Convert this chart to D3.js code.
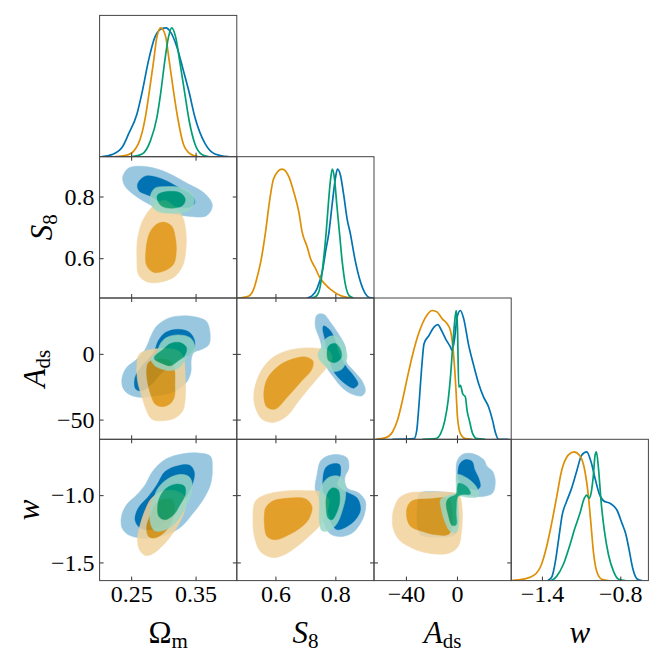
<!DOCTYPE html>
<html>
<head>
<meta charset="utf-8">
<script src="https://cdn.jsdelivr.net/npm/d3@7"></script>
<style>body{margin:0;background:#fff}</style>
</head>
<body>
<svg id="chart" width="664" height="664"></svg>
<script>
// axis ranges and ticks
var rangeOm = [0.201, 0.414];
var rangeS8 = [0.471, 0.929];
var rangeAds = [-65, 42.5];
var rangeW = [-1.635, -0.585];
var ticksOm = [0.25, 0.35];
var ticksS8 = [0.6, 0.8];
var ticksAdsX = [-40, 0];
var ticksAdsY = [-50, 0];
var ticksWX = [-1.4, -0.8];
var ticksWY = [-1.5, -1.0];

// 1D marginals: [value, normalised density]
var margOmBlue = [[0.205,0],[0.220,0.016],[0.236,0.073],[0.246,0.177],[0.259,0.332],[0.267,0.50],[0.277,0.748],[0.287,0.93],[0.298,0.995],[0.304,1.0],[0.311,0.969],[0.321,0.852],[0.331,0.67],[0.340,0.50],[0.349,0.306],[0.365,0.099],[0.380,0.021],[0.401,0]];
var margOmOrange = [[0.225,0],[0.246,0.016],[0.261,0.099],[0.272,0.306],[0.278,0.50],[0.285,0.748],[0.290,0.93],[0.296,1.0],[0.303,0.943],[0.309,0.748],[0.316,0.50],[0.323,0.281],[0.331,0.099],[0.342,0.021],[0.354,0]];
var margOmGreen = [[0.251,0],[0.267,0.021],[0.280,0.125],[0.290,0.306],[0.296,0.50],[0.303,0.774],[0.308,0.93],[0.313,1.0],[0.319,0.93],[0.326,0.722],[0.333,0.50],[0.340,0.281],[0.349,0.099],[0.360,0.016],[0.370,0]];

var margS8Blue = [[0.706,0],[0.722,0.016],[0.739,0.073],[0.756,0.202],[0.769,0.383],[0.778,0.5],[0.789,0.72],[0.800,0.927],[0.807,1.0],[0.817,0.953],[0.828,0.798],[0.839,0.617],[0.850,0.5],[0.865,0.306],[0.884,0.124],[0.900,0.034],[0.914,0.003],[0.928,0]];
var margS8Orange = [[0.472,0],[0.511,0.016],[0.528,0.073],[0.539,0.163],[0.553,0.306],[0.567,0.513],[0.580,0.746],[0.594,0.927],[0.622,1.0],[0.645,0.94],[0.661,0.824],[0.678,0.668],[0.689,0.513],[0.706,0.396],[0.717,0.306],[0.734,0.228],[0.747,0.163],[0.767,0.104],[0.784,0.067],[0.811,0.026],[0.839,0.005],[0.861,0]];
var margS8Green = [[0.722,0],[0.739,0.021],[0.750,0.098],[0.761,0.306],[0.769,0.5],[0.778,0.772],[0.785,0.94],[0.790,1.0],[0.797,0.927],[0.805,0.72],[0.814,0.5],[0.823,0.28],[0.834,0.098],[0.847,0.016],[0.861,0]];

var margAdsBlue = [[-50.5,0],[-33.6,0.005],[-31.5,0.07],[-29.7,0.276],[-27.6,0.561],[-25.8,0.742],[-21.9,0.806],[-18.0,0.871],[-14.9,0.891],[-12.8,0.858],[-8.9,0.78],[-5.1,0.716],[-3.8,0.69],[-1.7,0.793],[0.1,0.948],[2.7,1.0],[5.3,0.935],[9.2,0.729],[13.1,0.574],[17.0,0.432],[20.9,0.328],[24.8,0.251],[27.9,0.147],[30.0,0.057],[32.6,0],[40.4,0]];
var margAdsOrange = [[-63.5,0],[-55.7,0.013],[-50.5,0.057],[-46.6,0.147],[-42.7,0.302],[-38.8,0.483],[-34.9,0.651],[-31.0,0.793],[-27.1,0.897],[-23.2,0.969],[-19.3,1.0],[-15.4,0.987],[-11.5,0.935],[-7.7,0.897],[-5.1,0.845],[-3.2,0.716],[-1.7,0.535],[-0.6,0.354],[0.4,0.173],[2.7,0.044],[6.6,0.005],[11.8,0]];
var margAdsGreen = [[-27.1,0],[-16.7,0.005],[-12.8,0.044],[-9.5,0.147],[-6.9,0.302],[-5.1,0.483],[-3.2,0.742],[-1.7,0.922],[-0.6,1.0],[0.4,0.871],[1.4,0.406],[2.7,0.419],[4.5,0.354],[6.6,0.328],[7.9,0.225],[9.7,0.147],[12.3,0.044],[15.7,0.005],[22.2,0]];

var margWBlue = [[-1.354,0],[-1.323,0.031],[-1.297,0.147],[-1.271,0.328],[-1.245,0.509],[-1.212,0.612],[-1.173,0.716],[-1.135,0.845],[-1.096,0.974],[-1.057,1.0],[-1.024,0.922],[-0.993,0.793],[-0.962,0.677],[-0.929,0.62],[-0.877,0.599],[-0.826,0.548],[-0.787,0.444],[-0.756,0.354],[-0.730,0.225],[-0.705,0.096],[-0.671,0.013],[-0.633,0]];
var margWOrange = [[-1.637,0],[-1.534,0.013],[-1.457,0.044],[-1.405,0.121],[-1.367,0.251],[-1.328,0.432],[-1.289,0.638],[-1.251,0.845],[-1.199,0.974],[-1.155,1.0],[-1.109,0.969],[-1.070,0.845],[-1.045,0.664],[-1.024,0.432],[-1.006,0.225],[-0.980,0.07],[-0.942,0.01],[-0.890,0]];
var margWGreen = [[-1.328,0],[-1.289,0.031],[-1.238,0.121],[-1.186,0.276],[-1.148,0.406],[-1.109,0.522],[-1.076,0.638],[-1.057,0.664],[-1.039,0.638],[-1.024,0.677],[-1.006,0.819],[-0.993,0.974],[-0.983,1.0],[-0.967,0.871],[-0.947,0.612],[-0.921,0.38],[-0.890,0.199],[-0.851,0.07],[-0.813,0.01],[-0.761,0]];

// 2D contours (95% and 68%), outlines as [x, y]
var omS8Blue95 = [[0.237,0.863],[0.246,0.892],[0.267,0.898],[0.298,0.884],[0.334,0.846],[0.365,0.808],[0.376,0.771],[0.367,0.738],[0.339,0.736],[0.308,0.749],[0.282,0.771],[0.256,0.803],[0.240,0.835]];
var omS8Blue68 = [[0.260,0.841],[0.272,0.866],[0.298,0.857],[0.323,0.830],[0.344,0.803],[0.349,0.781],[0.341,0.765],[0.318,0.768],[0.298,0.781],[0.280,0.801],[0.262,0.819]];
var omS8Orange95 = [[0.303,0.787],[0.318,0.765],[0.330,0.733],[0.335,0.684],[0.335,0.630],[0.330,0.576],[0.318,0.541],[0.298,0.524],[0.277,0.522],[0.262,0.544],[0.259,0.598],[0.260,0.662],[0.267,0.717],[0.280,0.760],[0.292,0.781]];
var omS8Orange68 = [[0.300,0.717],[0.313,0.704],[0.319,0.662],[0.320,0.619],[0.316,0.581],[0.303,0.560],[0.285,0.554],[0.274,0.576],[0.273,0.630],[0.278,0.679],[0.287,0.706]];
var omS8Green95 = [[0.280,0.803],[0.287,0.827],[0.305,0.832],[0.329,0.827],[0.344,0.808],[0.348,0.781],[0.339,0.754],[0.318,0.746],[0.292,0.751],[0.281,0.773]];
var omS8Green68 = [[0.291,0.805],[0.305,0.816],[0.326,0.812],[0.334,0.792],[0.330,0.771],[0.313,0.762],[0.298,0.768],[0.291,0.787]];

var omAdsBlue95 = [[0.290,21.3],[0.308,27.1],[0.329,28.9],[0.354,27.6],[0.367,24.6],[0.372,17.5],[0.371,7.4],[0.360,3.6],[0.347,1.0],[0.343,-5.3],[0.343,-12.9],[0.339,-19.2],[0.331,-24.3],[0.313,-29.3],[0.287,-31.9],[0.264,-33.1],[0.246,-30.6],[0.237,-25.5],[0.236,-18.0],[0.243,-10.4],[0.259,-4.0],[0.272,3.6],[0.282,14.9]];
var omAdsBlue68 = [[0.303,16.2],[0.323,18.7],[0.341,16.2],[0.349,8.6],[0.344,1.0],[0.323,-5.3],[0.298,-14.2],[0.282,-23.0],[0.267,-28.1],[0.257,-26.8],[0.256,-18.0],[0.267,-9.1],[0.285,1.0],[0.292,9.9]];
var omAdsOrange95 = [[0.272,2.3],[0.298,4.1],[0.323,2.3],[0.331,-2.8],[0.334,-18.0],[0.334,-33.1],[0.330,-43.3],[0.318,-48.8],[0.298,-50.9],[0.282,-49.6],[0.274,-43.3],[0.267,-33.1],[0.260,-20.5],[0.259,-7.8],[0.262,-0.7]];
var omAdsOrange68 = [[0.277,-6.6],[0.292,-4.0],[0.310,-5.3],[0.317,-11.6],[0.318,-23.0],[0.317,-33.1],[0.310,-38.2],[0.298,-40.2],[0.287,-38.2],[0.280,-30.6],[0.275,-20.5],[0.274,-11.6]];
var omAdsGreen95 = [[0.290,1.0],[0.295,7.4],[0.305,12.4],[0.323,14.4],[0.341,12.4],[0.348,7.4],[0.347,1.0],[0.339,-1.5],[0.331,-6.6],[0.321,-11.6],[0.305,-12.4],[0.287,-9.1],[0.281,-4.0]];
var omAdsGreen68 = [[0.287,-1.5],[0.300,3.6],[0.311,7.9],[0.326,8.6],[0.336,4.8],[0.333,-1.5],[0.323,-5.3],[0.311,-9.1],[0.298,-7.3],[0.286,-4.0]];

var s8AdsBlue95 = [[0.739,29.6],[0.761,30.1],[0.784,23.8],[0.811,14.9],[0.834,4.8],[0.834,-5.3],[0.861,-12.9],[0.889,-20.5],[0.900,-28.1],[0.889,-31.9],[0.856,-30.6],[0.822,-25.5],[0.795,-18.0],[0.772,-10.4],[0.761,-1.5],[0.750,9.9],[0.733,21.3]];
var s8AdsBlue68 = [[0.761,21.3],[0.784,17.5],[0.800,9.9],[0.811,1.0],[0.834,-9.1],[0.861,-16.7],[0.876,-23.0],[0.861,-26.1],[0.834,-23.0],[0.800,-15.4],[0.784,-7.8],[0.772,1.0],[0.765,11.1],[0.758,18.7]];
var s8AdsOrange95 = [[0.578,-5.3],[0.622,1.0],[0.678,4.1],[0.733,4.3],[0.778,2.3],[0.789,-4.0],[0.767,-11.6],[0.733,-20.5],[0.678,-35.7],[0.639,-47.1],[0.594,-52.1],[0.555,-49.6],[0.533,-40.7],[0.528,-30.6],[0.544,-16.7]];
var s8AdsOrange68 = [[0.611,-9.1],[0.656,-4.0],[0.700,-2.3],[0.725,-5.3],[0.722,-11.6],[0.683,-21.8],[0.639,-33.1],[0.600,-42.0],[0.572,-40.7],[0.561,-31.9],[0.572,-19.2]];
var s8AdsGreen95 = [[0.761,9.9],[0.789,13.7],[0.817,11.1],[0.834,3.6],[0.839,-2.8],[0.822,-11.6],[0.795,-13.4],[0.772,-10.4],[0.750,-5.3],[0.742,-0.2],[0.753,4.8]];
var s8AdsGreen68 = [[0.778,6.1],[0.800,7.9],[0.817,3.6],[0.820,-2.8],[0.800,-6.6],[0.778,-5.3],[0.772,-0.2]];

var omWBlue95 = [[0.290,-0.786],[0.305,-0.729],[0.329,-0.694],[0.354,-0.687],[0.373,-0.711],[0.376,-0.798],[0.373,-0.922],[0.360,-1.046],[0.344,-1.146],[0.331,-1.220],[0.316,-1.270],[0.292,-1.307],[0.267,-1.319],[0.246,-1.295],[0.236,-1.245],[0.235,-1.158],[0.243,-1.071],[0.259,-0.997],[0.272,-0.922],[0.280,-0.848]];
var omWBlue68 = [[0.303,-0.823],[0.323,-0.781],[0.341,-0.778],[0.348,-0.828],[0.345,-0.922],[0.334,-1.022],[0.318,-1.121],[0.300,-1.208],[0.282,-1.257],[0.264,-1.245],[0.256,-1.183],[0.261,-1.096],[0.277,-1.009],[0.290,-0.922]];
var omWOrange95 = [[0.298,-0.972],[0.318,-0.967],[0.333,-1.009],[0.334,-1.096],[0.326,-1.195],[0.313,-1.295],[0.300,-1.369],[0.285,-1.431],[0.272,-1.448],[0.263,-1.406],[0.260,-1.319],[0.264,-1.220],[0.272,-1.108],[0.282,-1.022]];
var omWOrange68 = [[0.298,-1.034],[0.313,-1.034],[0.318,-1.108],[0.313,-1.195],[0.303,-1.270],[0.287,-1.319],[0.277,-1.307],[0.274,-1.233],[0.280,-1.146],[0.287,-1.071]];
var omWGreen95 = [[0.285,-1.022],[0.292,-0.947],[0.305,-0.885],[0.323,-0.848],[0.339,-0.860],[0.345,-0.922],[0.341,-1.022],[0.331,-1.121],[0.318,-1.208],[0.303,-1.257],[0.287,-1.265],[0.280,-1.208],[0.280,-1.108]];
var omWGreen68 = [[0.295,-1.009],[0.305,-0.947],[0.321,-0.917],[0.333,-0.935],[0.334,-0.997],[0.326,-1.071],[0.316,-1.146],[0.303,-1.183],[0.293,-1.158],[0.291,-1.084]];

var s8WBlue95 = [[0.750,-0.749],[0.772,-0.711],[0.811,-0.699],[0.839,-0.724],[0.845,-0.798],[0.831,-0.873],[0.839,-0.947],[0.878,-0.984],[0.900,-1.046],[0.898,-1.133],[0.884,-1.208],[0.856,-1.282],[0.822,-1.307],[0.789,-1.295],[0.772,-1.257],[0.755,-1.146],[0.750,-1.046],[0.733,-0.960],[0.739,-0.848]];
var s8WBlue68 = [[0.767,-0.798],[0.789,-0.768],[0.814,-0.773],[0.817,-0.848],[0.806,-0.922],[0.834,-0.972],[0.873,-1.022],[0.884,-1.108],[0.867,-1.183],[0.839,-1.233],[0.806,-1.257],[0.789,-1.220],[0.778,-1.146],[0.767,-1.046],[0.758,-0.922]];
var s8WOrange95 = [[0.533,-1.046],[0.567,-0.997],[0.622,-0.972],[0.700,-0.967],[0.750,-0.977],[0.778,-1.034],[0.772,-1.121],[0.750,-1.220],[0.711,-1.307],[0.672,-1.381],[0.628,-1.444],[0.589,-1.463],[0.550,-1.419],[0.531,-1.319],[0.525,-1.195]];
var s8WOrange68 = [[0.567,-1.096],[0.589,-1.046],[0.645,-1.022],[0.700,-1.027],[0.722,-1.084],[0.713,-1.171],[0.689,-1.233],[0.645,-1.295],[0.600,-1.332],[0.572,-1.307],[0.563,-1.220],[0.563,-1.146]];
var s8WGreen95 = [[0.756,-0.922],[0.778,-0.868],[0.811,-0.860],[0.831,-0.910],[0.834,-1.009],[0.822,-1.121],[0.806,-1.208],[0.784,-1.257],[0.756,-1.265],[0.747,-1.195],[0.747,-1.071],[0.747,-0.984]];
var s8WGreen68 = [[0.772,-0.997],[0.789,-0.947],[0.809,-0.960],[0.815,-1.034],[0.806,-1.121],[0.789,-1.183],[0.776,-1.171],[0.769,-1.096]];

var adsWBlue95 = [[0.1,-0.749],[4.0,-0.699],[11.8,-0.691],[20.9,-0.736],[23.5,-0.786],[27.9,-0.823],[30.0,-0.897],[27.9,-0.984],[20.9,-1.009],[14.4,-1.009],[6.6,-0.997],[1.9,-0.992],[0.1,-0.910],[-0.6,-0.823]];
var adsWBlue95b = [[-29.2,-0.984],[-8.9,-0.979],[-0.6,-0.997],[0.9,-1.096],[0.1,-1.270],[-2.5,-1.300],[-27.1,-1.302],[-30.2,-1.270],[-30.5,-1.022]];
var adsWBlue68 = [[1.9,-0.773],[6.6,-0.736],[11.8,-0.749],[13.9,-0.811],[17.0,-0.873],[18.3,-0.935],[15.7,-0.960],[9.2,-0.947],[5.3,-0.922],[1.4,-0.885]];
var adsWOrange95 = [[-49.2,-1.096],[-45.3,-1.022],[-37.5,-0.984],[-21.9,-0.977],[-6.4,-0.979],[1.4,-0.997],[4.0,-1.096],[3.5,-1.270],[0.9,-1.381],[-6.4,-1.431],[-21.9,-1.431],[-34.9,-1.394],[-45.3,-1.332],[-50.0,-1.245],[-50.5,-1.158]];
var adsWOrange68 = [[-38.8,-1.084],[-34.9,-1.041],[-21.9,-1.027],[-6.4,-1.027],[-3.8,-1.108],[-3.8,-1.233],[-6.4,-1.290],[-16.7,-1.295],[-27.1,-1.270],[-36.2,-1.233],[-39.3,-1.171]];
var adsWGreen95 = [[0.1,-0.848],[7.9,-0.873],[15.7,-0.947],[16.5,-1.009],[9.2,-1.017],[1.4,-1.009],[0.9,-1.084],[1.4,-1.195],[-0.6,-1.275],[-5.1,-1.270],[-9.5,-1.195],[-12.1,-1.108],[-12.8,-1.034],[-6.4,-1.002],[-0.6,-0.984],[-0.6,-0.922]];
var adsWGreen68 = [[1.4,-0.910],[8.7,-0.947],[10.5,-0.992],[4.0,-0.997],[0.9,-1.009],[-0.6,-1.121],[-0.6,-1.220],[-3.8,-1.225],[-6.9,-1.146],[-8.4,-1.059],[-6.4,-1.022],[-0.6,-0.992],[0.1,-0.947]];

// styling
var lineColor = {blue: '#0173B2', orange: '#DE8F05', green: '#029E73'};
var lightColor = {blue: '#99C7E0', orange: '#F2D29B', green: '#9AD8C7'};
var seriesAlpha = {blue: 1, orange: 0.85, green: 0.85};

var ranges = [rangeOm, rangeS8, rangeAds, rangeW];
var xTicks = [ticksOm, ticksS8, ticksAdsX, ticksWX];
var yTicks = [ticksOm, ticksS8, ticksAdsY, ticksWY];
var formats = [d3.format('.2f'), d3.format('.1f'), d3.format('d'), d3.format('.1f')];

var marginals = [
  {i: 0, s: 'blue', d: margOmBlue}, {i: 0, s: 'orange', d: margOmOrange}, {i: 0, s: 'green', d: margOmGreen},
  {i: 1, s: 'blue', d: margS8Blue}, {i: 1, s: 'orange', d: margS8Orange}, {i: 1, s: 'green', d: margS8Green},
  {i: 2, s: 'blue', d: margAdsBlue}, {i: 2, s: 'orange', d: margAdsOrange}, {i: 2, s: 'green', d: margAdsGreen},
  {i: 3, s: 'blue', d: margWBlue}, {i: 3, s: 'orange', d: margWOrange}, {i: 3, s: 'green', d: margWGreen}
];

var contours = [
  {i: 0, j: 1, s: 'blue', c95: [omS8Blue95], c68: [omS8Blue68]},
  {i: 0, j: 1, s: 'orange', c95: [omS8Orange95], c68: [omS8Orange68]},
  {i: 0, j: 1, s: 'green', c95: [omS8Green95], c68: [omS8Green68]},
  {i: 0, j: 2, s: 'blue', c95: [omAdsBlue95], c68: [omAdsBlue68]},
  {i: 0, j: 2, s: 'orange', c95: [omAdsOrange95], c68: [omAdsOrange68]},
  {i: 0, j: 2, s: 'green', c95: [omAdsGreen95], c68: [omAdsGreen68]},
  {i: 1, j: 2, s: 'blue', c95: [s8AdsBlue95], c68: [s8AdsBlue68]},
  {i: 1, j: 2, s: 'orange', c95: [s8AdsOrange95], c68: [s8AdsOrange68]},
  {i: 1, j: 2, s: 'green', c95: [s8AdsGreen95], c68: [s8AdsGreen68]},
  {i: 0, j: 3, s: 'blue', c95: [omWBlue95], c68: [omWBlue68]},
  {i: 0, j: 3, s: 'orange', c95: [omWOrange95], c68: [omWOrange68]},
  {i: 0, j: 3, s: 'green', c95: [omWGreen95], c68: [omWGreen68]},
  {i: 1, j: 3, s: 'blue', c95: [s8WBlue95], c68: [s8WBlue68]},
  {i: 1, j: 3, s: 'orange', c95: [s8WOrange95], c68: [s8WOrange68]},
  {i: 1, j: 3, s: 'green', c95: [s8WGreen95], c68: [s8WGreen68]},
  {i: 2, j: 3, s: 'blue', c95: [adsWBlue95, adsWBlue95b], c68: [adsWBlue68]},
  {i: 2, j: 3, s: 'orange', c95: [adsWOrange95], c68: [adsWOrange68]},
  {i: 2, j: 3, s: 'green', c95: [adsWGreen95], c68: [adsWGreen68]}
];

var LEFT = 99.6, TOP = 15.4, PW = 137.2, PH = 141.3;
var FONT = "'Liberation Serif', 'Times New Roman', serif";
var svg = d3.select('#chart');

var xScales = ranges.map(function(r, i){
  return d3.scaleLinear().domain(r).range([LEFT + i*PW, LEFT + (i+1)*PW]);
});
var yScales = ranges.map(function(r, j){
  return d3.scaleLinear().domain(r).range([TOP + (j+1)*PH, TOP + j*PH]);
});

var defs = svg.append('defs');
d3.range(4).forEach(function(j){
  d3.range(j + 1).forEach(function(i){
    defs.append('clipPath').attr('id', 'clip' + i + j).append('rect')
      .attr('x', LEFT + i*PW).attr('y', TOP + j*PH).attr('width', PW).attr('height', PH);
  });
});
function clipFor(i, j){ return 'url(#clip' + i + j + ')'; }

// diagonal panels
d3.range(4).forEach(function(i){
  var x = xScales[i];
  var y = d3.scaleLinear().domain([0, 1.097]).range([TOP + (i+1)*PH, TOP + i*PH]);
  var g = svg.append('g').attr('clip-path', clipFor(i, i));
  var line = d3.line().x(function(d){ return x(d[0]); }).y(function(d){ return y(d[1]); })
    .curve(d3.curveMonotoneX);
  marginals.filter(function(m){ return m.i === i; }).forEach(function(m){
    g.append('path').attr('d', line(m.d))
      .attr('fill', 'none').attr('stroke', lineColor[m.s]).attr('stroke-width', 1.7);
  });
});

// off-diagonal panels
contours.forEach(function(c){
  var x = xScales[c.i], y = yScales[c.j];
  var shape = d3.line().x(function(d){ return x(d[0]); }).y(function(d){ return y(d[1]); })
    .curve(d3.curveCatmullRomClosed.alpha(0.5));
  var g = svg.append('g').attr('clip-path', clipFor(c.i, c.j))
    .append('g').attr('opacity', seriesAlpha[c.s]);
  c.c95.forEach(function(r){
    g.append('path').attr('d', shape(r)).attr('fill', lightColor[c.s])
      .attr('stroke', lightColor[c.s]).attr('stroke-width', 0.6);
  });
  c.c68.forEach(function(r){
    g.append('path').attr('d', shape(r)).attr('fill', lineColor[c.s])
      .attr('stroke', lineColor[c.s]).attr('stroke-width', 0.4);
  });
});

// frames and ticks
function styleAxis(a){
  a.select('.domain').remove();
  a.selectAll('line').attr('stroke', '#333');
  a.selectAll('text').style('font-family', FONT).style('font-size', '24px').attr('fill', '#000');
}
function noLabel(){ return ''; }
function drawPanelFrame(i, j){
  var x = xScales[i], y = yScales[j];
  var y0 = TOP + (j+1)*PH, y1 = TOP + j*PH;
  var x0 = LEFT + i*PW, x1 = LEFT + (i+1)*PW;
  var showX = (j === 3), showY = (i === 0 && j > 0);

  svg.append('g').attr('transform', 'translate(0,' + y0 + ')')
    .call(d3.axisBottom(x).tickValues(xTicks[i]).tickSize(-4).tickPadding(4)
      .tickFormat(showX ? formats[i] : noLabel))
    .call(styleAxis);
  if (i !== j) {
    svg.append('g').attr('transform', 'translate(0,' + y1 + ')')
      .call(d3.axisTop(x).tickValues(xTicks[i]).tickSize(-4).tickFormat(noLabel))
      .call(styleAxis);
    svg.append('g').attr('transform', 'translate(' + x0 + ',0)')
      .call(d3.axisLeft(y).tickValues(yTicks[j]).tickSize(-4).tickPadding(5)
        .tickFormat(showY ? formats[j] : noLabel))
      .call(styleAxis);
    svg.append('g').attr('transform', 'translate(' + x1 + ',0)')
      .call(d3.axisRight(y).tickValues(yTicks[j]).tickSize(-4).tickFormat(noLabel))
      .call(styleAxis);
  }
  svg.append('rect').attr('x', x0).attr('y', y1).attr('width', PW).attr('height', PH)
    .attr('fill', 'none').attr('stroke', '#444').attr('stroke-width', 1);
}
d3.range(4).forEach(function(j){
  d3.range(j + 1).forEach(function(i){ drawPanelFrame(i, j); });
});

// axis labels
var labelParts = [
  [['Ω', 'normal', false], ['m', 'normal', true]],
  [['S', 'italic', false], ['8', 'normal', true]],
  [['A', 'italic', false], ['ds', 'normal', true]],
  [['w', 'italic', false]]
];
function writeLabel(t, parts){
  parts.forEach(function(p){
    var sp = t.append('tspan').text(p[0]).style('font-style', p[1]);
    if (p[2]) sp.style('font-size', '21px').attr('dy', 5);
  });
}
labelParts.forEach(function(parts, i){
  var t = svg.append('text').attr('x', LEFT + (i+0.5)*PW).attr('y', 643)
    .attr('text-anchor', 'middle').style('font-family', FONT).style('font-size', '31px');
  writeLabel(t, parts);
});
var yLabelX = [0, 52, 45, 39];
[1, 2, 3].forEach(function(j){
  var t = svg.append('text')
    .attr('transform', 'translate(' + yLabelX[j] + ',' + (TOP + (j+0.5)*PH) + ') rotate(-90)')
    .attr('text-anchor', 'middle').style('font-family', FONT).style('font-size', '31px');
  writeLabel(t, labelParts[j]);
});
</script>
</body>
</html>
